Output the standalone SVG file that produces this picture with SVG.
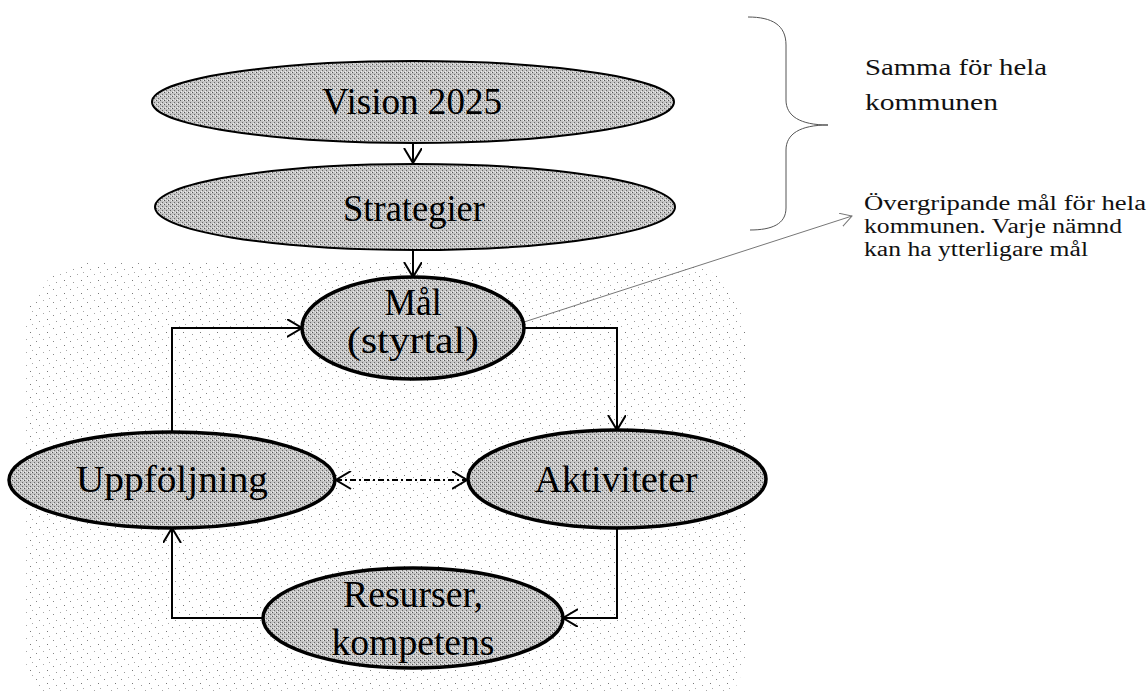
<svg xmlns="http://www.w3.org/2000/svg" width="1148" height="691" viewBox="0 0 1148 691">
  <defs>
    <pattern id="stipple" width="17" height="13" patternUnits="userSpaceOnUse">
      <rect x="2" y="3" width="1" height="1" fill="#888"/>
      <rect x="9" y="1" width="1" height="1" fill="#aaa"/>
      <rect x="13" y="7" width="1" height="1" fill="#777"/>
      <rect x="5" y="9" width="1" height="1" fill="#999"/>
      <rect x="15" y="12" width="1" height="1" fill="#aaa"/>
    </pattern>
    <pattern id="halftone" width="4" height="4" patternUnits="userSpaceOnUse">
      <rect width="4" height="4" fill="#c4c4c4"/>
      <rect x="0" y="0" width="1" height="1" fill="#555"/>
      <rect x="2" y="2" width="1" height="1" fill="#666"/>
      <rect x="3" y="0" width="1" height="1" fill="#eee"/>
      <rect x="1" y="3" width="1" height="1" fill="#eee"/>
    </pattern>
    <marker id="arr" markerUnits="userSpaceOnUse" markerWidth="20" markerHeight="20" refX="15" refY="9" orient="auto">
      <path d="M0,0 L15,9 L0,18" fill="none" stroke="#000" stroke-width="2"/>
    </marker>
    <marker id="arrStart" markerUnits="userSpaceOnUse" markerWidth="20" markerHeight="20" refX="0" refY="9" orient="auto">
      <path d="M15,0 L0,9 L15,18" fill="none" stroke="#000" stroke-width="2"/>
    </marker>
    <marker id="arrGray" markerUnits="userSpaceOnUse" markerWidth="16" markerHeight="16" refX="12" refY="7" orient="auto">
      <path d="M0,0 L12,7 L0,14" fill="none" stroke="#777" stroke-width="1"/>
    </marker>
  </defs>
  <style>
    .node { fill: url(#halftone); stroke: #000; }
    .thin { stroke-width: 2; }
    .thick { stroke-width: 3.5; }
    .lbl { font-family: "Liberation Serif", serif; font-size: 37px; fill: #000; text-anchor: middle; }
    .note { font-family: "Liberation Serif", serif; fill: #111; }
    .conn { fill: none; stroke: #000; stroke-width: 2; }
  </style>

  <rect width="1148" height="691" fill="#fff"/>
  <g id="background">
    <rect x="25" y="262" width="720" height="460" rx="70" ry="70" fill="url(#stipple)"/>
  </g>

  <g id="connectors">
    <path class="conn" d="M413,143 L413,163" marker-end="url(#arr)"/>
    <path class="conn" d="M413,250 L413,277" marker-end="url(#arr)"/>
    <path class="conn" d="M524,328 L617,328 L617,430" marker-end="url(#arr)"/>
    <path class="conn" d="M617,528 L617,618 L563,618" marker-end="url(#arr)"/>
    <path class="conn" d="M263,618 L172,618 L172,528" marker-end="url(#arr)"/>
    <path class="conn" d="M172,432 L172,328 L302,328" marker-end="url(#arr)"/>
    <path class="conn" d="M336,480 L467,480" stroke-dasharray="6,3,2,3" marker-start="url(#arrStart)" marker-end="url(#arr)"/>
    <path d="M524,322 L852,216" fill="none" stroke="#777" stroke-width="1" marker-end="url(#arrGray)"/>
    <path d="M748,17 C772,17 786,25 786,45 L786,100 C786,116 800,125 828,125 C800,125 786,134 786,150 L786,208 C786,224 772,230 750,230" fill="none" stroke="#555" stroke-width="1"/>
  </g>

  <g id="vision">
    <ellipse class="node thin" cx="413" cy="102" rx="261" ry="41"/>
    <text class="lbl" x="412" y="114" textLength="180" lengthAdjust="spacingAndGlyphs">Vision 2025</text>
  </g>
  <g id="strategier">
    <ellipse class="node thin" cx="415" cy="207" rx="260" ry="43"/>
    <text class="lbl" x="414" y="221" textLength="142" lengthAdjust="spacingAndGlyphs">Strategier</text>
  </g>
  <g id="mal">
    <ellipse class="node thick" cx="413" cy="328" rx="111" ry="51"/>
    <text class="lbl" x="413" y="315" textLength="57" lengthAdjust="spacingAndGlyphs">Mål</text>
    <text class="lbl" x="413" y="353" textLength="132" lengthAdjust="spacingAndGlyphs">(styrtal)</text>
  </g>
  <g id="uppfoljning">
    <ellipse class="node thick" cx="172" cy="480" rx="163" ry="48"/>
    <text class="lbl" x="172" y="492" textLength="192" lengthAdjust="spacingAndGlyphs">Uppföljning</text>
  </g>
  <g id="aktiviteter">
    <ellipse class="node thick" cx="617" cy="479" rx="149" ry="49"/>
    <text class="lbl" x="616" y="492" textLength="163" lengthAdjust="spacingAndGlyphs">Aktiviteter</text>
  </g>
  <g id="resurser">
    <ellipse class="node thick" cx="413" cy="618" rx="150" ry="50"/>
    <text class="lbl" x="413" y="607" textLength="140" lengthAdjust="spacingAndGlyphs">Resurser,</text>
    <text class="lbl" x="413" y="655" textLength="163" lengthAdjust="spacingAndGlyphs">kompetens</text>
  </g>

  <g id="note-samma">
    <text class="note" x="865" y="75" font-size="24" textLength="182" lengthAdjust="spacingAndGlyphs">Samma för hela</text>
    <text class="note" x="865" y="110" font-size="24" textLength="133" lengthAdjust="spacingAndGlyphs">kommunen</text>
  </g>
  <g id="note-mal">
    <text class="note" x="864" y="210" font-size="20" textLength="282" lengthAdjust="spacingAndGlyphs">Övergripande mål för hela</text>
    <text class="note" x="864" y="233" font-size="20" textLength="258" lengthAdjust="spacingAndGlyphs">kommunen. Varje nämnd</text>
    <text class="note" x="864" y="256" font-size="20" textLength="224" lengthAdjust="spacingAndGlyphs">kan ha ytterligare mål</text>
  </g>
</svg>
